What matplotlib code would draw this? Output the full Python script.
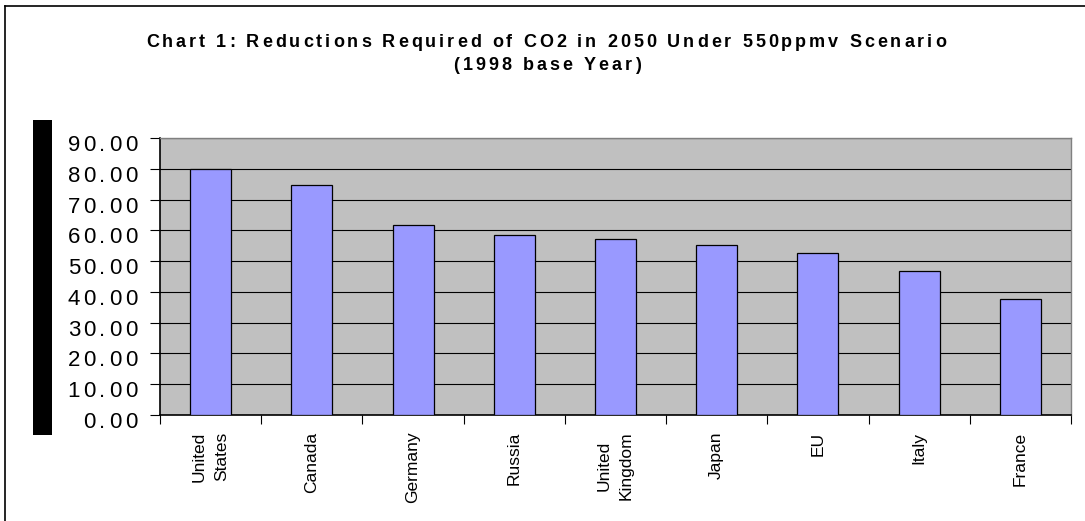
import matplotlib
matplotlib.use("Agg")
import matplotlib.pyplot as plt
from matplotlib.font_manager import FontProperties, findfont, get_font
from matplotlib.transforms import IdentityTransform
from matplotlib.patches import Rectangle
from matplotlib.lines import Line2D

try:
    from matplotlib.ft2font import LoadFlags
    NO_HINT = LoadFlags.NO_HINTING
except ImportError:
    from matplotlib.ft2font import LOAD_NO_HINTING as NO_HINT

# --- data ---------------------------------------------------------------
countries = ["United\nStates", "Canada", "Germany", "Russia", "United\nKingdom",
             "Japan", "EU", "Italy", "France"]
reductions = [80.0, 74.8, 61.7, 58.6, 57.3, 55.3, 52.7, 46.9, 37.8]
y_ticks = [0, 10, 20, 30, 40, 50, 60, 70, 80, 90]
title_lines = ["Chart 1: Reductions Required of CO2 in 2050 Under 550ppmv Scenario",
               "(1998 base Year)"]

W, H, DPI = 1085, 521, 100
fig = plt.figure(figsize=(W / DPI, H / DPI), dpi=DPI)
fig.patch.set_facecolor("white")

# plot area in pixels
px_l, px_r, px_t, px_b = 160, 1071, 138, 415
ax = fig.add_axes([px_l / W, 1 - px_b / H, (px_r - px_l) / W, (px_b - px_t) / H])
ax.set_facecolor("#C0C0C0")

x = list(range(len(countries)))
ax.bar(x, reductions, width=0.405, color="#9999FF", edgecolor="black",
       linewidth=0.9, zorder=3)

ax.set_xlim(-0.5, len(countries) - 0.5)
ax.set_ylim(y_ticks[0], y_ticks[-1])

# gridlines
ax.set_yticks(y_ticks)
ax.set_yticklabels([])
ax.yaxis.grid(True, color="black", linewidth=0.8)
ax.set_axisbelow(True)
ax.tick_params(axis="y", direction="out", length=7.2, width=0.8, color="black")

# category boundaries get tick marks, centers get the labels
ax.set_xticks([i - 0.5 for i in range(len(countries) + 1)])
ax.set_xticklabels([])
ax.set_xticks(x, minor=True)
ax.set_xticklabels(countries, minor=True, rotation=90, family="Liberation Sans",
                   fontsize=12.5, linespacing=1.6, multialignment="center")
ax.tick_params(axis="x", which="major", direction="out", length=6.5, width=0.8)
ax.tick_params(axis="x", which="minor", length=0, pad=12)

for s in ("left", "bottom"):
    ax.spines[s].set_color("black")
    ax.spines[s].set_linewidth(1.2)
for s in ("top", "right"):
    ax.spines[s].set_color("#808080")
    ax.spines[s].set_linewidth(1.0)


def glyph_advances(s, fp):
    font = get_font(findfont(fp))
    font.set_size(fp.get_size_in_points(), DPI)
    return [font.load_char(ord(c), flags=NO_HINT).linearHoriAdvance / 65536 for c in s]


def spaced_text(xp, yp, s, fp, track, ha="center"):
    """Draw a string with extra letter spacing, positioned in display pixels."""
    adv = glyph_advances(s, fp)
    total = sum(adv) + track * (len(s) - 1)
    x0 = xp - total / 2 if ha == "center" else (xp - total if ha == "right" else xp)
    for c, a in zip(s, adv):
        fig.text(x0, yp, c, fontproperties=fp, transform=IdentityTransform(),
                 ha="left", va="baseline")
        x0 += a + track


# y tick labels
fig.canvas.draw()
tick_fp = FontProperties(family="Liberation Sans", size=16)
for v in y_ticks:
    ty = ax.transData.transform((0, v))[1]
    spaced_text(px_l - 23, ty - 13, f"{v:.2f}", tick_fp, 3.4, ha="right")

# title
title_fp = FontProperties(family="Liberation Sans", weight="bold", size=13)
spaced_text(546, H - 47, title_lines[0], title_fp, 3.0)
spaced_text(547, H - 70, title_lines[1], title_fp, 3.0)

# vertical black block on the left
fig.patches.append(Rectangle((33, H - 435), 19, 315, transform=IdentityTransform(),
                             facecolor="black", edgecolor="none"))

# outer chart frame (left and top edges)
fig.lines.append(Line2D([4.5, 4.5], [-5, H - 6], transform=IdentityTransform(),
                        color="black", linewidth=1.2))
fig.lines.append(Line2D([4.5, W + 5], [H - 6, H - 6], transform=IdentityTransform(),
                        color="black", linewidth=1.2))

fig.savefig("out.png", dpi=DPI)
